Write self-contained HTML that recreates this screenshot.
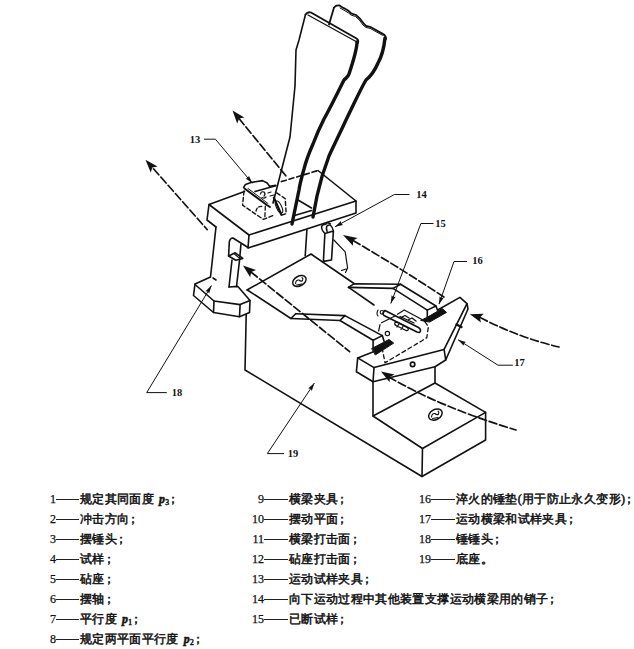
<!DOCTYPE html>
<html><head><meta charset="utf-8">
<style>
html,body{margin:0;padding:0;background:#fff;width:634px;height:649px;overflow:hidden}
svg{position:absolute;left:0;top:0}
.lg{position:absolute;font-family:"Liberation Serif",serif;font-size:12px;line-height:14px;color:#111;white-space:nowrap}
.lg .num{position:absolute;right:100%;top:0;-webkit-text-stroke:0.25px #111}
.lg .dash{display:inline-block;vertical-align:top;height:7px;border-bottom:1px solid #222;margin-right:1px}
.lg .tx{vertical-align:top;-webkit-text-stroke:0.5px #111;letter-spacing:0.35px}
.lg .sc{margin-left:-2px}
.lg i{font-weight:bold;margin-left:1.5px}
.lg sub{font-size:7.5px;vertical-align:-2px;line-height:0}
</style></head><body>
<svg width="634" height="649" viewBox="0 0 634 649">
<g fill="none" stroke="#111" stroke-width="1.6" stroke-linejoin="round" stroke-linecap="round">
<!-- specimen right piece -->
<path d="M329,24.5 L334,7.5 Q336,5 339.5,5.5 L343.3,7.9 L346.5,9.5 Q349,11 351.2,13.4 L356,15 Q360,18 363.8,23.7 L366.2,26 L370.1,26.8 L382.8,33.9 Q386,35.5 386,39" stroke-width="1.8"/>
<path d="M340,8 L345,10.8 Q349,13 351,15 L355.5,16.5 Q359.5,19.5 363,25 L366,27.5 L370,28.3 L382.5,35.3" stroke-width="1"/>
<path d="M385,38 C384,48 382,56 378,63 C375,70 371,76 366,80 C360,90 354,104 346,120 C340,133 334,145 329,156 C324,169 320,182 317,196 L313,217" stroke-width="3.4"/>
<!-- specimen left piece -->
<path d="M305.5,14.5 Q307.5,11.5 311,12.5 L356.5,38.5 Q359,40 358,43" stroke-width="1.8"/>
<path d="M308,15 L356,41.5" stroke-width="1.3"/>
<path d="M357,42 C357,50 352,65 349,74 C348,77 346,78 344,80 C341,86 339,90 336,96 C332,104 328,112 324,119 C320,127 316,136 313,144 C309,153 306,161 304,169 C302,176 300,183 299,190 L292,224" stroke-width="3.4"/>
<path d="M305.5,14.5 L299,40 L296,50 L295,86 L290,137 L273,203"/>

<!-- crossbeam -->
<path d="M244.5,191.5 L209,204.5 L249,235 L356,201 L318,170.5"/>
<path d="M209,204.5 L207,220 L216,227"/>
<path d="M249,235 L248,248 L356,213 L356,201"/>
<path d="M281.4,181.6 L318,170.5" stroke-dasharray="5,3"/>
<!-- slot at specimen base -->
<path d="M298,200 L311.5,208"/>
<path d="M294.5,215.5 L311.5,210.5"/>
<!-- block 13 -->
<path d="M243.6,187.5 L245.5,184.4 L251,182.5 L262.5,180.6 L267.2,183 L269.6,186.3 L275.7,185.4"/>
<path d="M255,191.5 L275.7,185.8"/>
<path d="M244.5,188.5 L267.2,205.2 L270,207" stroke-width="1.9"/>
<path d="M248,188.5 L268,203.5" stroke-width="1"/>
<path d="M244,191 L242.6,205.2 L263.4,219.4 L272.9,215.6 M276.7,192.9 L285.2,198.6 L286.2,213.7 L280,215.5" stroke-dasharray="4,2.5" stroke-width="1.4"/>
<path d="M265.3,206.2 L264.8,219" stroke-dasharray="4,2.5" stroke-width="1.3"/>
<path d="M256,211 Q257,206 262,206.5" stroke-dasharray="3,2" stroke-width="1.3"/>
<path d="M260.5,194 Q261,191 264,192 Q266,194 264,196 M262,197.5 Q264,199 266,197 M268,193 L271,192 M270,196 L274,195" stroke-width="1.2"/>
<path d="M273.9,197.7 L281.4,214.7" stroke-width="2.2"/>
<ellipse cx="279" cy="207" rx="2.6" ry="6.5" transform="rotate(-25 279 207)" stroke-width="1.1"/>
<!-- left leg -->
<path d="M216,227 L210.5,277 L195,284 L193.5,295.5 L213.5,312.5 L239.5,316.8 L249.5,312.4 L250,300.5 L237.9,286.4 L229,287"/>
<path d="M195,284.5 L214,301 L240.1,304.6 L250,300.5"/>
<path d="M214,301 L213.5,312.5 M240.1,304.6 L239.5,316.8"/>
<path d="M213,278 L216,280"/>
<!-- inner post -->
<path d="M228.6,256 L229.3,242 Q230,238 233,238 L248.4,247.7"/>
<path d="M228.6,256 L235.2,252.8 L242.8,258.4 L235.8,260.3 Z"/>
<path d="M234.5,254 L240.5,259.2" stroke-width="1.1"/>
<path d="M240.9,244.6 L239.8,257.5"/>
<path d="M232,260 L229,287 M239.6,259.7 L236.5,286.5"/>
<!-- right leg of crossbeam -->
<path d="M306.9,230 L305.2,255.7"/>
<path d="M324.9,233.5 L323.4,261.4 L331.5,260 L333.4,231 L324.9,233.5"/>
<path d="M324.9,233.5 Q321.5,230.5 321.5,226.8 Q322,224.5 325.8,224.3 L327.5,222.5 L330.5,224" stroke-width="1.4"/>
<path d="M327.2,231.6 Q325.5,228.2 327.2,225.6 Q329,224.5 330.5,225.2 Q332.5,227 333.4,231" stroke-width="1.4"/>
<path d="M333.9,240 L345.2,251.9 L347.6,268 L345.5,272.5 M341.5,270.5 L346,269" stroke-width="1.2"/>
<!-- platform -->
<path d="M247,290 L311,254 L354,283.5"/>
<path d="M348.6,287.3 L374,305"/>
<path d="M247.4,290 L290.9,318.5 L295.7,313.7"/>
<!-- nut on platform -->
<ellipse cx="299.4" cy="281" rx="7.2" ry="4.8" stroke-width="1.5" transform="rotate(-28 299.4 281)"/>
<path d="M295.5,283.5 Q296,279.5 299,280 Q301,282 302.5,280.5 Q303.5,278.5 302,277.5 M296.5,285 L302,284" stroke-width="1.1"/>

<!-- base -->
<path d="M246.2,314.6 L245,370 L422,476.5 L485.6,440 L485.6,412.4"/>
<path d="M373,416 L422.5,448.5 L485.6,412.4 L435,383 L373,416"/>
<path d="M422.5,448.5 L422,476.5"/>
<path d="M373,381.8 L373,416 M435,366.7 L435,383"/>
<ellipse cx="435.4" cy="414.6" rx="7.2" ry="5" stroke-width="1.5" transform="rotate(-28 435.4 414.6)"/>
<path d="M431.5,417 Q432,413 435,413.5 Q437,415.5 438.5,414 Q439.5,412 438,411 M432.5,418.5 L438,417.5" stroke-width="1.1"/>

<!-- back rail -->
<path d="M348.5,287.4 L354.2,283.7 L400.6,284.2 L436,306"/>
<path d="M348.5,287.4 L393,288.4 L427.3,310.1 L436,306 L437.4,310"/>
<path d="M393,288.4 L400.6,284.2"/>
<path d="M427.3,310.1 L427.3,317"/>
<path d="M427.6,317.1 L442.1,308.6 L446.5,312.4 L429.5,322.1 L421,320.5 Z" fill="#111" stroke-width="1"/>
<!-- front rail -->
<path d="M295.7,313.7 L344.9,315.6 L382.3,335.6 L373.1,340.3 L340,320.5 L290.9,318.5"/>
<path d="M340,320.5 L344.9,315.6"/>
<path d="M373.1,340.3 L373.1,347.7 M382.3,335.6 L384.1,341.3"/>
<path d="M372,348.4 L389,339.5 L393.7,343.1 L375.6,354.8 Z" fill="#111" stroke-width="1"/>
<circle cx="387.4" cy="333.6" r="2.2" stroke-width="1.1"/>
<!-- broken specimen 15 -->
<path d="M378,310 Q376,314 378,316" stroke-width="1.1"/>
<circle cx="382" cy="312.3" r="1.8" stroke-width="1.1"/>
<path d="M385,310.5 L418.5,327.5 Q422,330 419.5,332.5 L417,332 L384,315.5 Q381.5,313 385,310.5 Z" stroke-width="1.6"/>
<path d="M397.5,314.2 L404.2,310 L423,320 L425,321.5" stroke-width="1.3"/>
<path d="M401,317.5 L405,315.5 L409,318 M408,320 L412,318 L416,321 M400,316.5 L414,323" stroke-width="1.3"/>
<path d="M395,322.5 Q394,325 397,326 L406,330.5 Q409,331 408,328 L398,322.5 Q396,322 395,322.5 Z M399,324 L397,327 M403,326.5 L401,329.5" stroke-width="1.3"/>
<path d="M381.5,322.7 L395,316 M380,324.6 L378.6,331" stroke-width="1.2"/>
<!-- holder 17 -->
<path d="M437.7,310 L459.9,297.4 L467,303.7 L468,309 L445.7,360 L435,366.7 L373,381.8 L356.4,371.7 L357.7,357.9 L381,348.7"/>
<path d="M357.7,357.9 L374,367.6 L444.1,349.4 L467,303.7"/>
<path d="M374,367.6 L373,381.8 M444.1,349.4 L445.7,360"/>
<path d="M425,321.8 L428.4,326.5 L426.8,337.6 L422,340.7 L385,362.8 L382.6,350.2" stroke-dasharray="4,3" stroke-width="1.3"/>
<circle cx="412.6" cy="364.4" r="2.2" fill="none" stroke-width="1.7"/>
<path d="M456.5,324.5 L461.5,327" stroke-width="2.4"/>

<!-- dashed arrows -->
<g stroke-dasharray="8,3" stroke-width="1.7">
<path d="M153.5,168.8 L207.3,229.7"/>
<path d="M239,118.5 L286,176"/>
<path d="M353,240.5 Q401,268.5 446,298.4"/>
<path d="M251,272 L349.6,351.6"/>
<path d="M480,317.5 Q520,338 559,347"/>
<path d="M389,377 Q440,407 516,430"/>
</g>
</g>
<!-- arrowheads -->
<g fill="#111">
<path d="M145.5,159.7 L150.7,172.5 L152.4,167.6 L157.6,166.4 Z"/>
<path d="M232.5,110.4 L237.2,123.4 L239.1,118.5 L244.3,117.6 Z"/>
<path d="M343.0,235.0 L352.9,245.8 L353.1,240.6 L357.5,237.9 Z"/>
<path d="M243.0,265.4 L250.2,277.2 L251.2,272.0 L256.0,270.0 Z"/>
<path d="M469.9,314.2 L480.9,322.5 L479.9,317.4 L483.7,313.7 Z"/>
<path d="M381.0,371.5 L389.6,382.3 L389.9,377.0 L394.5,374.4 Z"/>
</g>
<!-- leader lines -->
<g fill="none" stroke="#111" stroke-width="1">
<path d="M204,139.2 L215.4,139.2 L252.4,183.3"/>
<path d="M409.5,194.5 L394.4,194.5 L335,226.8"/>
<path d="M433.5,223.5 L420.9,223.5 L390.8,303.5"/>
<path d="M467,261.5 L454,261.5 L439,304"/>
<path d="M512.8,365.2 L498,365.2 L458,339.7"/>
<path d="M211.5,285.6 L146.7,392.6 L166.8,392.6"/>
<path d="M314.4,383 L267.3,453.6 L284,453.6"/>
</g>
<g fill="#111">
<path d="M252.4,183.3 L248.9,175.8 L247.9,177.9 L245.6,178.6 Z"/>
<path d="M335.0,226.8 L343.1,224.9 L341.1,223.5 L341.0,221.0 Z"/>
<path d="M390.8,303.5 L395.7,296.8 L393.3,296.9 L391.6,295.2 Z"/>
<path d="M439.0,304.5 L443.7,297.7 L441.3,297.9 L439.6,296.2 Z"/>
<path d="M458.0,339.7 L463.7,345.7 L464.0,343.3 L466.0,341.9 Z"/>
<path d="M211.5,285.6 L205.4,291.3 L207.8,291.6 L209.2,293.6 Z"/>
<path d="M314.4,383.0 L308.1,388.4 L310.5,388.8 L311.8,390.9 Z"/>
</g>
<g font-family="'Liberation Serif', serif" font-size="10.5" font-weight="bold" fill="#111" text-anchor="middle" dominant-baseline="central">
<text x="195" y="139">13</text>
<text x="421.4" y="194.5">14</text>
<text x="440.5" y="223">15</text>
<text x="477.5" y="260">16</text>
<text x="519.5" y="362">17</text>
<text x="177" y="392">18</text>
<text x="293" y="453">19</text>
</g>
</svg>
<div class="lg" style="top:492.0px;left:56px"><span class="num">1</span><span class="dash" style="width:23px"></span><span class="tx">规定其同面度 <i>p</i><sub>3</sub><span class="sc">；</span></span></div>
<div class="lg" style="top:511.5px;left:56px"><span class="num">2</span><span class="dash" style="width:23px"></span><span class="tx">冲击方向<span class="sc">；</span></span></div>
<div class="lg" style="top:532.0px;left:56px"><span class="num">3</span><span class="dash" style="width:23px"></span><span class="tx">摆锤头<span class="sc">；</span></span></div>
<div class="lg" style="top:552.0px;left:56px"><span class="num">4</span><span class="dash" style="width:23px"></span><span class="tx">试样<span class="sc">；</span></span></div>
<div class="lg" style="top:572.0px;left:56px"><span class="num">5</span><span class="dash" style="width:23px"></span><span class="tx">砧座<span class="sc">；</span></span></div>
<div class="lg" style="top:591.5px;left:56px"><span class="num">6</span><span class="dash" style="width:23px"></span><span class="tx">摆轴<span class="sc">；</span></span></div>
<div class="lg" style="top:612.0px;left:56px"><span class="num">7</span><span class="dash" style="width:23px"></span><span class="tx">平行度 <i>p</i><sub>1</sub><span class="sc">；</span></span></div>
<div class="lg" style="top:632.0px;left:56px"><span class="num">8</span><span class="dash" style="width:23px"></span><span class="tx">规定两平面平行度 <i>p</i><sub>2</sub><span class="sc">；</span></span></div>
<div class="lg" style="top:492.0px;left:264px"><span class="num">9</span><span class="dash" style="width:24px"></span><span class="tx">横梁夹具<span class="sc">；</span></span></div>
<div class="lg" style="top:511.5px;left:264px"><span class="num">10</span><span class="dash" style="width:24px"></span><span class="tx">摆动平面<span class="sc">；</span></span></div>
<div class="lg" style="top:532.0px;left:264px"><span class="num">11</span><span class="dash" style="width:24px"></span><span class="tx">横梁打击面<span class="sc">；</span></span></div>
<div class="lg" style="top:552.0px;left:264px"><span class="num">12</span><span class="dash" style="width:24px"></span><span class="tx">砧座打击面<span class="sc">；</span></span></div>
<div class="lg" style="top:572.0px;left:264px"><span class="num">13</span><span class="dash" style="width:24px"></span><span class="tx">运动试样夹具<span class="sc">；</span></span></div>
<div class="lg" style="top:591.5px;left:264px"><span class="num">14</span><span class="dash" style="width:24px"></span><span class="tx">向下运动过程中其他装置支撑运动横梁用的销子<span class="sc">；</span></span></div>
<div class="lg" style="top:612.0px;left:264px"><span class="num">15</span><span class="dash" style="width:24px"></span><span class="tx">已断试样<span class="sc">；</span></span></div>
<div class="lg" style="top:492.0px;left:431px"><span class="num">16</span><span class="dash" style="width:24px"></span><span class="tx">淬火的锤垫(用于防止永久变形)<span class="sc">；</span></span></div>
<div class="lg" style="top:511.5px;left:431px"><span class="num">17</span><span class="dash" style="width:24px"></span><span class="tx">运动横梁和试样夹具<span class="sc">；</span></span></div>
<div class="lg" style="top:532.0px;left:431px"><span class="num">18</span><span class="dash" style="width:24px"></span><span class="tx">锤锤头<span class="sc">；</span></span></div>
<div class="lg" style="top:552.0px;left:431px"><span class="num">19</span><span class="dash" style="width:24px"></span><span class="tx">底座。</span></div>
</body></html>
